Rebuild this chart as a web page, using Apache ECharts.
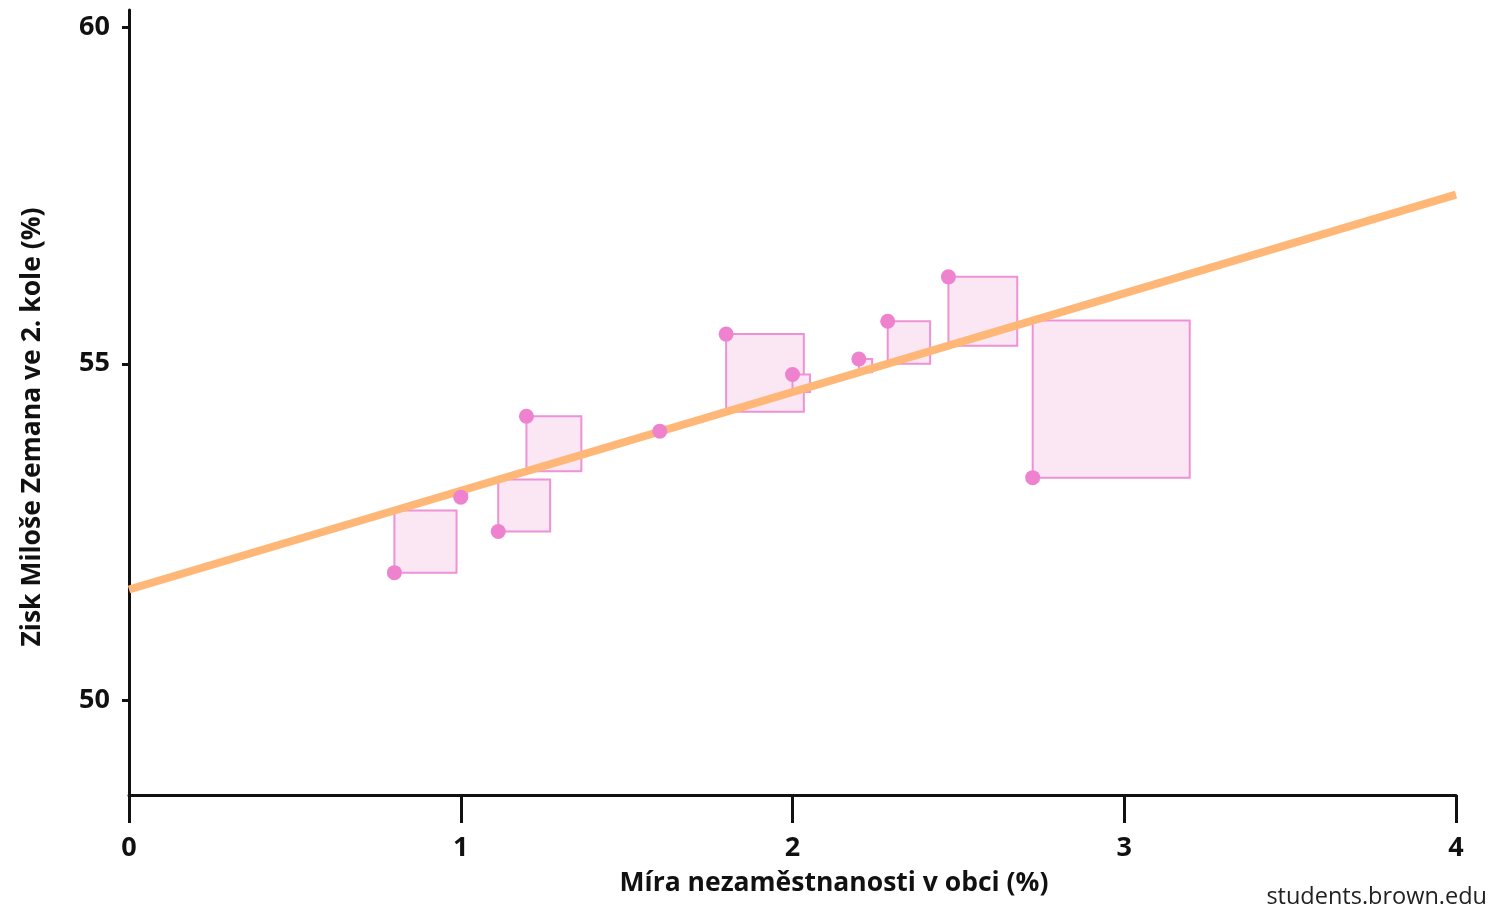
<!DOCTYPE html>
<html>
<head>
<meta charset="utf-8">
<script src="https://cdn.jsdelivr.net/npm/echarts@6/dist/echarts.min.js"></script>
<style>html,body{margin:0;padding:0;background:#fff}#c{width:1494px;height:908px}</style>
</head>
<body>
<div id="c"></div>
<script>
// Data
var unemployment = [0.8, 1.0, 1.113, 1.198, 1.6, 1.8, 2.0, 2.2, 2.287, 2.47, 2.724];
var zemanShare   = [51.90, 53.02, 52.51, 54.22, 54.00, 55.44, 54.84, 55.07, 55.63, 56.29, 53.31];
var fitIntercept = [51.65];
var fitSlope     = [1.465];
var xTicks = [0, 1, 2, 3, 4];
var yTicks = [50, 55, 60];

var a = fitIntercept[0], b = fitSlope[0];
var points = unemployment.map(function (x, i) { return [x, zemanShare[i]]; });
var fitLine = [[xTicks[0], a + b * xTicks[0]], [xTicks[xTicks.length - 1], a + b * xTicks[xTicks.length - 1]]];

var chart = echarts.init(document.getElementById('c'));
var FONT = 'Open Sans';
chart.setOption({
  animation: false,
  grid: { left: 129, right: 38, top: 10, bottom: 113 },
  xAxis: {
    type: 'value', min: 0, max: 4, interval: 1,
    axisLine: { show: true, lineStyle: { color: '#111', width: 3 } },
    axisTick: { show: true, inside: false, length: 28, lineStyle: { color: '#111', width: 3 } },
    axisLabel: { show: true, margin: 40, fontFamily: FONT, fontWeight: 'bold', fontSize: 27, color: '#111' },
    splitLine: { show: false }
  },
  yAxis: {
    type: 'value', min: 48.6, max: 60.25,
    axisLine: { show: true, lineStyle: { color: '#111', width: 3 } },
    axisTick: { show: true, length: 7, customValues: yTicks, lineStyle: { color: '#111', width: 3 } },
    axisLabel: { show: true, margin: 19, customValues: yTicks, fontFamily: FONT, fontWeight: 'bold', fontSize: 27, color: '#111' },
    splitLine: { show: false }
  },
  graphic: [
    {
      type: 'text', x: 834, y: 883,
      style: { text: 'Míra nezaměstnanosti v obci (%)', fontFamily: FONT, fontWeight: 'bold', fontSize: 26.5, fill: '#111', align: 'center', verticalAlign: 'middle' }
    },
    {
      type: 'text', x: 32, y: 427, rotation: Math.PI / 2,
      style: { text: 'Zisk Miloše Zemana ve 2. kole (%)', fontFamily: FONT, fontWeight: 'bold', fontSize: 26.5, fill: '#111', align: 'center', verticalAlign: 'middle' }
    },
    {
      type: 'text', right: 7, bottom: -1,
      style: { text: 'students.brown.edu', fontFamily: FONT, fontSize: 23.5, fill: '#222' }
    }
  ],
  series: [
    {
      type: 'custom', z: 1,
      data: points,
      renderItem: function (params, api) {
        var x = api.value(0), y = api.value(1);
        var p = api.coord([x, y]);
        var l = api.coord([x, a + b * x]);
        var side = Math.abs(l[1] - p[1]);
        return {
          type: 'rect',
          shape: { x: p[0], y: Math.min(p[1], l[1]), width: side, height: side },
          style: { fill: '#fbe6f3', stroke: '#ee92d6', lineWidth: 2 }
        };
      }
    },
    {
      type: 'line', z: 2, data: fitLine, symbol: 'none',
      lineStyle: { color: '#ffb778', width: 8 }
    },
    {
      type: 'scatter', z: 3, data: points, symbolSize: 15,
      itemStyle: { color: '#ee82cf', opacity: 1 }
    }
  ]
});
</script>
</body>
</html>
